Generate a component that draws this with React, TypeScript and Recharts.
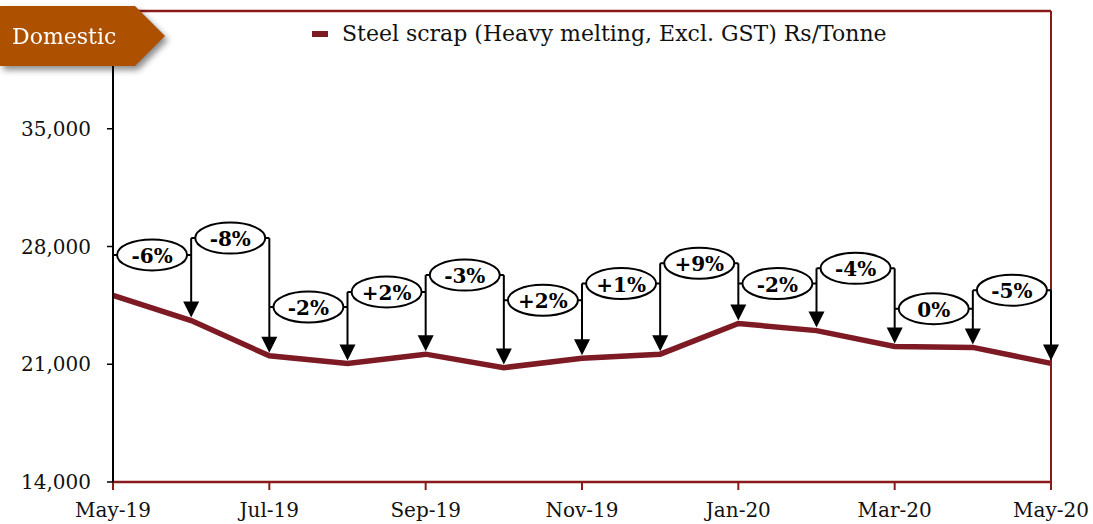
import {
  LineChart,
  Line,
  XAxis,
  YAxis,
  ReferenceLine,
  ReferenceDot,
  Legend,
} from "recharts";

const MONTHS = [
  "May-19", "Jun-19", "Jul-19", "Aug-19", "Sep-19", "Oct-19", "Nov-19",
  "Dec-19", "Jan-20", "Feb-20", "Mar-20", "Apr-20", "May-20",
];
const PRICES = [25100, 23600, 21500, 21050, 21600, 20800, 21350, 21600, 23420, 23000, 22060, 22000, 21050];
// month-on-month change callouts, one per interval
const CHANGES = ["-6%", "-8%", "-2%", "+2%", "-3%", "+2%", "+1%", "+9%", "-2%", "-4%", "0%", "-5%"];
const CALLOUT_LEVELS = [27500, 28500, 24400, 25300, 26300, 24800, 25800, 27000, 25800, 26700, 24300, 25400];
const Y_TICKS = [14000, 21000, 28000, 35000];
const X_TICKS = [0, 2, 4, 6, 8, 10, 12];

const LINE_RED = "#7D1A23";
const FRAME_RED = "#8B1A1A";
const FONT = "'DejaVu Serif', serif";

const data = MONTHS.map((m, i) => ({ idx: i, month: m, price: PRICES[i] }));

function Arrow(props: any) {
  const { x1, y1, x2, y2 } = props;
  const x = (x1 + x2) / 2;
  const top = Math.min(y1, y2);
  const tip = Math.max(y1, y2) - 3;
  return (
    <g>
      <line x1={x} y1={top} x2={x} y2={tip - 14} stroke="#000" strokeWidth={2} />
      <polygon points={`${x - 8},${tip - 16} ${x + 8},${tip - 16} ${x},${tip}`} fill="#000" />
    </g>
  );
}

function Stub(props: any) {
  const { x1, y1, x2, y2 } = props;
  return <line x1={x1} y1={Math.min(y1, y2)} x2={x2} y2={Math.max(y1, y2) - 7} stroke="#000" strokeWidth={2} />;
}

function Bracket(props: any) {
  const { x1, y1, x2, y2 } = props;
  return <line x1={x1} y1={y1} x2={x2} y2={y2} stroke="#000" strokeWidth={2} />;
}

function Bubble(text: string) {
  return (props: any) => {
    const { cx, cy } = props;
    return (
      <g>
        <ellipse cx={cx} cy={cy} rx={35} ry={15.5} fill="#fff" stroke="#000" strokeWidth={2} />
        <text
          x={cx}
          y={cy + 1}
          textAnchor="middle"
          dominantBaseline="central"
          fontFamily={FONT}
          fontWeight="bold"
          fontSize={20}
          fill="#000"
        >
          {text}
        </text>
      </g>
    );
  };
}

function LegendBox() {
  return (
    <div style={{ display: "flex", alignItems: "center", fontFamily: FONT, fontSize: 22, color: "#111", whiteSpace: "nowrap" }}>
      <span style={{ display: "inline-block", width: 16, height: 6, background: LINE_RED, marginRight: 14 }} />
      Steel scrap (Heavy melting, Excl. GST) Rs/Tonne
    </div>
  );
}

export default function App() {
  return (
    <div style={{ position: "absolute", left: 0, top: 0, width: 1093, height: 524, background: "#fff" }}>
      <LineChart width={1093} height={524} data={data} margin={{ top: 11, right: 42, left: 0, bottom: 0 }}>
        <XAxis
          dataKey="idx"
          type="number"
          domain={[0, 12]}
          ticks={X_TICKS}
          tickFormatter={(v) => MONTHS[v]}
          height={42}
          tickSize={8}
          tickMargin={13}
          axisLine={{ stroke: FRAME_RED, strokeWidth: 2.5 }}
          tickLine={{ stroke: FRAME_RED, strokeWidth: 2 }}
          tick={{ fill: "#111", fontFamily: FONT, fontSize: 20 }}
        />
        <YAxis
          domain={[14000, 42000]}
          ticks={Y_TICKS}
          width={113}
          tickSize={6}
          tickMargin={16}
          tickFormatter={(v) => v.toLocaleString("en-US")}
          axisLine={{ stroke: "#000", strokeWidth: 2 }}
          tickLine={{ stroke: "#000", strokeWidth: 1.5 }}
          tick={{ fill: "#111", fontFamily: FONT, fontSize: 20 }}
        />
        <ReferenceLine y={42000} stroke={FRAME_RED} strokeWidth={2.5} />
        <ReferenceLine x={12} stroke={FRAME_RED} strokeWidth={2} />
        <Legend
          layout="horizontal"
          verticalAlign="middle"
          content={() => <LegendBox />}
          wrapperStyle={{ top: 21, left: 312, width: "auto" }}
        />
        <Line
          dataKey="price"
          stroke={LINE_RED}
          strokeWidth={5.5}
          dot={false}
          activeDot={false}
          isAnimationActive={false}
          legendType="plainline"
        />
        {/* first callout stub at May-19 */}
        <ReferenceLine
          segment={[{ x: 0, y: CALLOUT_LEVELS[0] }, { x: 0, y: PRICES[0] }]}
          shape={Stub}
        />
        {CHANGES.map((_, i) => (
          <ReferenceLine
            key={`h${i}`}
            segment={[{ x: i, y: CALLOUT_LEVELS[i] }, { x: i + 1, y: CALLOUT_LEVELS[i] }]}
            shape={Bracket}
          />
        ))}
        {CHANGES.map((_, i) => {
          const j = i + 1;
          const from = j < CHANGES.length ? Math.max(CALLOUT_LEVELS[i], CALLOUT_LEVELS[j]) : CALLOUT_LEVELS[i];
          return (
            <ReferenceLine
              key={`a${j}`}
              segment={[{ x: j, y: from }, { x: j, y: PRICES[j] }]}
              shape={Arrow}
            />
          );
        })}
        {CHANGES.map((c, i) => (
          <ReferenceDot key={`b${i}`} x={i + 0.5} y={CALLOUT_LEVELS[i]} r={16} shape={Bubble(c)} />
        ))}
      </LineChart>
      <div style={{ position: "absolute", left: 0, top: 6, filter: "drop-shadow(3px 4px 3px rgba(0,0,0,0.45))" }}>
        <div
          style={{
            width: 165,
            height: 60,
            background: "#AD5100",
            clipPath: "polygon(0 0, 135px 0, 165px 30px, 135px 60px, 0 60px)",
            color: "#fff",
            fontFamily: FONT,
            fontSize: 22,
            lineHeight: "62px",
            paddingLeft: 12,
            boxSizing: "border-box",
          }}
        >
          Domestic
        </div>
      </div>
    </div>
  );
}
